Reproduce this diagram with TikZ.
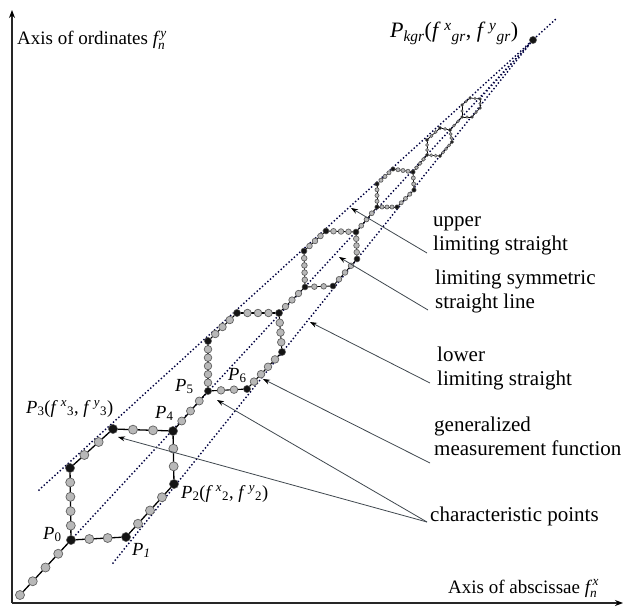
\documentclass[tikz,border=0pt]{standalone}
\usepackage{amsmath}
\usepackage{fontspec}
\setmainfont{Liberation Serif}
\usetikzlibrary{arrows.meta,calc}
\newcommand\beadseg[5]{% from, to, count, radius, linewidth
  \draw[chainline, line width=#5] (#1) -- (#2);
  \foreach \k in {1,...,#3} {\path[bead] ($(#1)!{\k/(#3+1)}!(#2)$) circle[radius=#4];}
}
\begin{document}
\begin{tikzpicture}[x=1pt,y=-1pt,
  chainline/.style={black},
  bead/.style={fill=black!28, draw=black!62, line width=0.7pt},
  vdot/.style={fill=black!92, draw=black!60, line width=0.5pt},
  limline/.style={line width=2pt, dash pattern=on 0pt off 3.6pt, line cap=round, color=black!75!blue},
  annot/.style={line width=0.8pt, color=black!65!cyan!60!black, -{Stealth[length=7pt,width=5pt,black]}},
  axisline/.style={line width=1.3pt, black!85, -{Stealth[length=8pt,width=6pt,black]}},
  txt/.style={font=\fontsize{21}{23.5}\selectfont, anchor=base west, inner sep=0pt, align=left},
  axlab/.style={font=\fontsize{19}{23}\selectfont, anchor=base west, inner sep=0pt},
  plab/.style={font=\fontsize{18.5}{22}\selectfont, anchor=base west, inner sep=0pt}
]
\useasboundingbox (0,0) rectangle (624,607);
\path[fill=white] (0,0) rectangle (624,607);

% ---- vertices ----
\coordinate (S) at (20,595);
\coordinate (A0) at (71,540);  \coordinate (A1) at (126,537); \coordinate (A2) at (174,484);
\coordinate (A3) at (173,431); \coordinate (A4) at (113,429); \coordinate (A5) at (70,468);
\coordinate (B0) at (208,391); \coordinate (B1) at (247,389); \coordinate (B2) at (282,352);
\coordinate (B3) at (279,313); \coordinate (B4) at (237,313); \coordinate (B5) at (208,341);
\coordinate (C0) at (305,287); \coordinate (C1) at (333,286); \coordinate (C2) at (357,259);
\coordinate (C3) at (356,232); \coordinate (C4) at (326,231); \coordinate (C5) at (304,251);
\coordinate (D0) at (377,207); \coordinate (D1) at (397,207); \coordinate (D2) at (414,190);
\coordinate (D3) at (413,172); \coordinate (D4) at (393,169); \coordinate (D5) at (377,184);
\coordinate (E0) at (427,155); \coordinate (E1) at (440,156); \coordinate (E2) at (452,142);
\coordinate (E3) at (450,130); \coordinate (E4) at (440,128); \coordinate (E5) at (427,140);
\coordinate (F0) at (462,117); \coordinate (F1) at (472,117); \coordinate (F2) at (480,108);
\coordinate (F3) at (480,99);  \coordinate (F4) at (470,98);  \coordinate (F5) at (462,105);
\coordinate (K) at (533,40);

% ---- limiting lines ----
\coordinate (UpS) at (39,490);  \coordinate (UpE) at (557,18);
\coordinate (LoS) at (113,563);
\draw[limline] (UpS) -- (UpE);
\draw[limline] (A0) -- (K);
\draw[limline] (LoS) -- (K);

% ---- axes ----
\coordinate (O) at (12,603);
\coordinate (Ytop) at (12,10);
\coordinate (Xend) at (623,603);
\draw[axisline] (O) -- (Ytop);
\draw[axisline] (O) -- (Xend);

% ---- chain ----
\beadseg{S}{A0}{3}{4.5}{1.3pt}
\path[bead] (S) circle[radius=4.5];
\beadseg{A0}{A1}{2}{4.5}{1.3pt}
\beadseg{A1}{A2}{3}{4.5}{1.3pt}
\beadseg{A2}{A3}{2}{4.5}{1.3pt}
\beadseg{A3}{A4}{2}{4.5}{1.3pt}
\beadseg{A4}{A5}{2}{4.5}{1.3pt}
\beadseg{A5}{A0}{4}{4.5}{1.3pt}
\beadseg{A3}{B0}{3}{4}{1.2pt}
\beadseg{B0}{B1}{2}{3.8}{1.1pt}
\beadseg{B1}{B2}{4}{3.8}{1.1pt}
\beadseg{B2}{B3}{3}{3.8}{1.1pt}
\beadseg{B3}{B4}{3}{3.8}{1.1pt}
\beadseg{B4}{B5}{3}{3.8}{1.1pt}
\beadseg{B5}{B0}{5}{3.8}{1.1pt}
\beadseg{B3}{C0}{3}{3.2}{1pt}
\beadseg{C0}{C1}{2}{2.8}{0.9pt}
\beadseg{C1}{C2}{3}{2.8}{0.9pt}
\beadseg{C2}{C3}{3}{2.8}{0.9pt}
\beadseg{C3}{C4}{3}{2.8}{0.9pt}
\beadseg{C4}{C5}{3}{2.8}{0.9pt}
\beadseg{C5}{C0}{4}{2.8}{0.9pt}
\beadseg{C3}{D0}{3}{2.4}{0.9pt}
\beadseg{D0}{D1}{3}{2}{0.8pt}
\beadseg{D1}{D2}{3}{2}{0.8pt}
\beadseg{D2}{D3}{2}{2}{0.8pt}
\beadseg{D3}{D4}{3}{2}{0.8pt}
\beadseg{D4}{D5}{3}{2}{0.8pt}
\beadseg{D5}{D0}{3}{2}{0.8pt}
\beadseg{D3}{E0}{3}{1.8}{0.8pt}
\beadseg{E0}{E1}{2}{1.5}{0.7pt}
\beadseg{E1}{E2}{3}{1.5}{0.7pt}
\beadseg{E2}{E3}{2}{1.5}{0.7pt}
\beadseg{E3}{E4}{1}{1.5}{0.7pt}
\beadseg{E4}{E5}{2}{1.5}{0.7pt}
\beadseg{E5}{E0}{2}{1.5}{0.7pt}
\beadseg{E3}{F0}{2}{1.3}{0.7pt}
\beadseg{F0}{F1}{1}{1.2}{0.6pt}
\beadseg{F1}{F2}{1}{1.2}{0.6pt}
\beadseg{F2}{F3}{1}{1.2}{0.6pt}
\beadseg{F3}{F4}{1}{1.2}{0.6pt}
\beadseg{F4}{F5}{1}{1.2}{0.6pt}
\beadseg{F5}{F0}{1}{1.2}{0.6pt}
\draw[limline, line width=1.5pt] (F3) -- (K);

% ---- vertex dots ----
\foreach \v in {A0,A1,A2,A3,A4,A5} \path[vdot] (\v) circle[radius=4.6];
\foreach \v in {B0,B1,B2,B3,B4,B5} \path[vdot] (\v) circle[radius=3.6];
\foreach \v in {C0,C1,C2,C3,C4,C5} \path[vdot] (\v) circle[radius=3];
\foreach \v in {D0,D1,D2,D3,D4,D5} \path[vdot] (\v) circle[radius=2.2];
\foreach \v in {E0,E1,E2,E3,E4,E5} \path[vdot] (\v) circle[radius=1.7];
\foreach \v in {F0,F1,F2,F3,F4,F5} \path[vdot] (\v) circle[radius=1.4];
\path[vdot] (K) circle[radius=3.6];

% ---- axis labels ----
\node[axlab] (ylab) at (17,45) {Axis of ordinates $\textit{f}^{\,\textit{y}}_{\textit{n}}$};
\node[axlab] (xlab) at (448,593) {Axis of abscissae $\textit{f}^{\,\textit{x}}_{\textit{n}}$};

% ---- point labels ----
\node[plab] (l0) at (43,539) {\textit{P}\textsubscript{0}};
\node[plab] (l1) at (132,555) {\textit{P}\textsubscript{\textit{1}}};
\node[plab] (l2) at (181,498) {\textit{P}\textsubscript{2}(\textit{f}\,\textsuperscript{\textit{x}}\textsubscript{2}, \textit{f}\,\textsuperscript{\textit{y}}\textsubscript{2})};
\node[plab] (l3) at (26,413) {\textit{P}\textsubscript{3}(\textit{f}\,\textsuperscript{\textit{x}}\textsubscript{3}, \textit{f}\,\textsuperscript{\textit{y}}\textsubscript{3})};
\node[plab] (l4) at (155,418) {\textit{P}\textsubscript{4}};
\node[plab] (l5) at (175,391) {\textit{P}\textsubscript{5}};
\node[plab] (l6) at (228,380) {\textit{P}\textsubscript{6}};
\node[plab, font=\fontsize{22}{26}\selectfont] (lk) at (390,38) {\textit{P}\textsubscript{\textit{kgr}}(\textit{f}\,\textsuperscript{\textit{x}}\textsubscript{\textit{gr}}, \textit{f}\,\textsuperscript{\textit{y}}\textsubscript{\textit{gr}})};

% ---- annotation texts ----
\node[txt] (tup) at (433,250) {upper\\limiting straight};
\node[txt] (tsym) at (435,308) {limiting symmetric\\straight line};
\node[txt] (tlow) at (437,385) {lower\\limiting straight};
\node[txt] (tgen) at (434,455) {generalized\\measurement function};
\node[txt] (tch) at (430,521) {characteristic points};

% ---- annotation arrows ----
\coordinate (upS) at (427,253);  \coordinate (upT) at (351,208);
\coordinate (symS) at (428,310); \coordinate (symT) at (339,257);
\coordinate (lowS) at (430,383); \coordinate (lowT) at (310,322);
\coordinate (genS) at (430,463); \coordinate (genT) at (263,379);
\coordinate (chS) at (427,522);  \coordinate (chT1) at (217,400); \coordinate (chT2) at (118,437);
\draw[annot] (upS) -- (upT);
\draw[annot] (symS) -- (symT);
\draw[annot] (lowS) -- (lowT);
\draw[annot] (genS) -- (genT);
\draw[annot] (chS) -- (chT1);
\draw[annot] (chS) -- (chT2);
\end{tikzpicture}
\end{document}
